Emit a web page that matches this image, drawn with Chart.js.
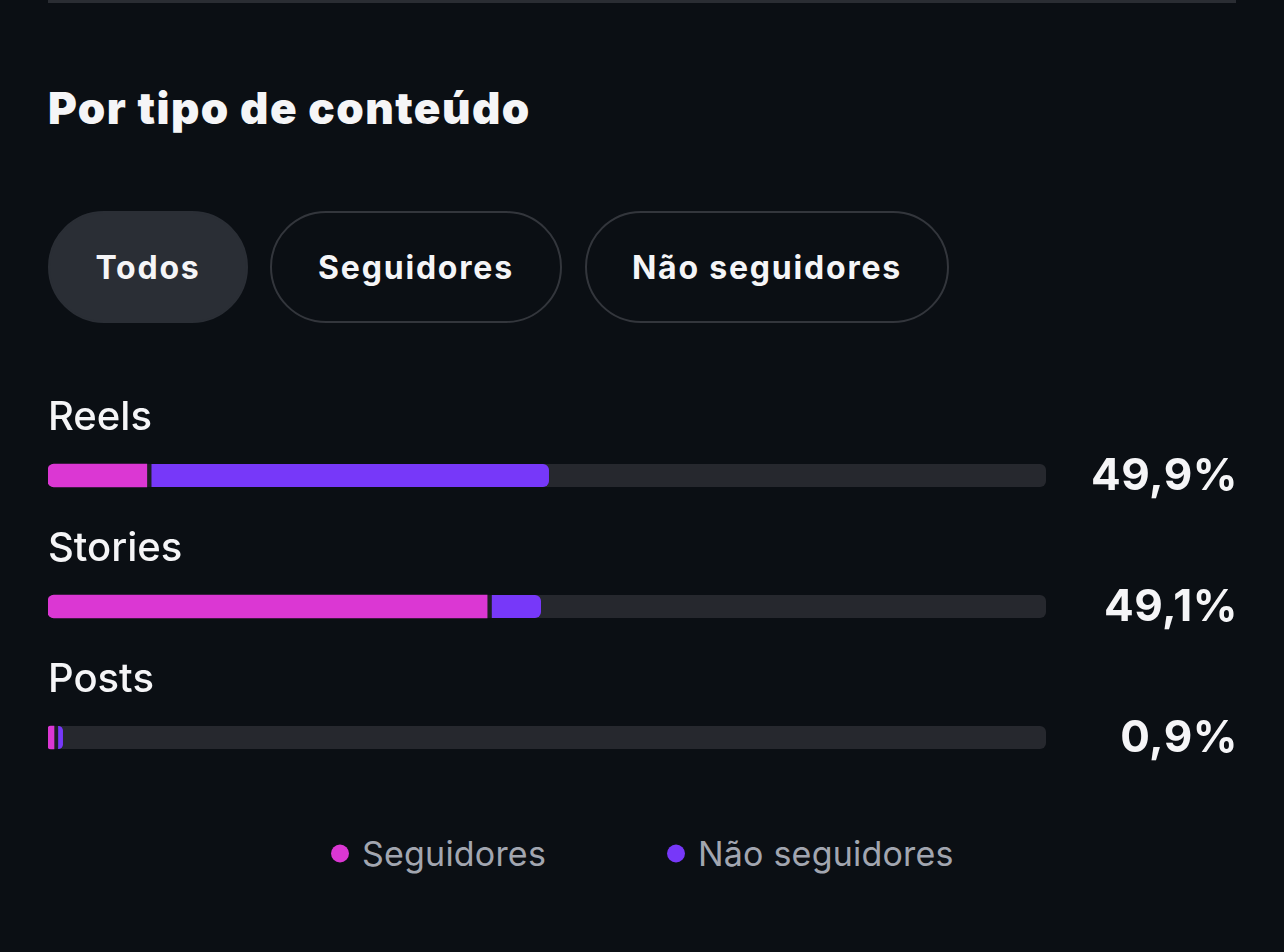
<!DOCTYPE html>
<html>
<head>
<meta charset="utf-8">
<script src="https://cdn.jsdelivr.net/npm/chart.js@4/dist/chart.umd.min.js"></script>
<style>
  html, body { margin: 0; padding: 0; }
  body { width: 1284px; height: 952px; background: #0b0f14; position: relative; overflow: hidden; font-family: Inter, "Noto Sans", sans-serif; color: #f5f5f7; }
  .topline { position: absolute; left: 48px; top: 0; width: 1188px; height: 3px; background: #2a2d33; }
  h2 { position: absolute; left: 48px; top: 86px; margin: 0; font-size: 44px; line-height: 44px; font-weight: 900; letter-spacing: 1.45px; }
  .tab { position: absolute; top: 211px; height: 112px; box-sizing: border-box; border: 2px solid #33363c; border-radius: 56px; display: flex; align-items: center; justify-content: center; font-size: 32px; font-weight: 700; letter-spacing: 1.8px; }
  .tab.active { background: #2a2e35; border-color: #2a2e35; }
  #wrap { position: absolute; left: 0; top: 380px; width: 1284px; height: 440px; }
  .legend { position: absolute; top: 853px; left: 0; width: 1284px; }
  .legend span { position: absolute; transform: translateY(-50%); font-size: 34px; letter-spacing: 0.2px; color: #a2a6b0; white-space: nowrap; display: flex; align-items: center; }
  .legend i { display: inline-block; width: 18px; height: 18px; border-radius: 50%; margin-right: 13px; }
</style>
</head>
<body>
<div class="topline"></div>
<h2>Por tipo de conteúdo</h2>
<div class="tab active" style="left:48px;width:200px">Todos</div>
<div class="tab" style="left:270px;width:292px">Seguidores</div>
<div class="tab" style="left:585px;width:364px">Não seguidores</div>
<div id="wrap"><canvas id="chart"></canvas></div>
<div class="legend" id="legend"></div>
<script>
const categories = ['Reels', 'Stories', 'Posts'];
const seguidores = [9.9, 44.0, 0.6];
const naoSeguidores = [40.3, 5.4, 0.9];
const totals = [49.9, 49.1, 0.9];
const seriesNames = ['Seguidores', 'Não seguidores'];
const seriesColors = ['#db37d3', '#7738f9'];

const trackColor = '#26282e';
const gapColor = '#1d1f24';

const fmt = v => v.toLocaleString('pt-BR', { minimumFractionDigits: 1, maximumFractionDigits: 1 }) + '%';

// track behind each bar + category / total labels
const rowDecor = {
    id: 'rowDecor',
    beforeDatasetsDraw(chart) {
        const { ctx, scales: { x, y } } = chart;
        const x0 = x.getPixelForValue(0);
        const x1 = x.getPixelForValue(100);
        ctx.save();
        ctx.fillStyle = trackColor;
        categories.forEach((c, i) => {
            const cy = y.getPixelForValue(i);
            ctx.beginPath();
            ctx.roundRect(x0, cy - 11.5, x1 - x0, 23, 6);
            ctx.fill();
        });
        ctx.restore();
    },
    afterDatasetsDraw(chart) {
        const { ctx, scales: { x, y } } = chart;
        ctx.save();
        ctx.fillStyle = '#f5f5f7';
        ctx.textBaseline = 'middle';
        categories.forEach((c, i) => {
            const cy = y.getPixelForValue(i);
            ctx.textAlign = 'left';
            ctx.font = '500 40px Inter';
            ctx.fillText(c, x.getPixelForValue(0), cy - 58);
            ctx.textAlign = 'right';
            ctx.font = '700 44px Inter';
            ctx.letterSpacing = '0.5px';
            ctx.fillText(fmt(totals[i]), chart.width - 46, cy + 1);
            ctx.letterSpacing = '0px';
        });
        ctx.restore();
    }
};

const ctx = document.getElementById('chart').getContext('2d');
new Chart(ctx, {
    type: 'bar',
    data: {
        labels: categories,
        datasets: [
            {
                label: seriesNames[0],
                data: seguidores,
                backgroundColor: seriesColors[0],
                borderWidth: 0,
                borderSkipped: false,
                borderRadius: { topLeft: 6, bottomLeft: 6, topRight: 0, bottomRight: 0 },
                barThickness: 23
            },
            {
                label: seriesNames[1],
                data: naoSeguidores,
                backgroundColor: seriesColors[1],
                borderColor: gapColor,
                borderWidth: { left: 5, top: 0, right: 0, bottom: 0 },
                borderSkipped: false,
                borderRadius: { topLeft: 0, bottomLeft: 0, topRight: 6, bottomRight: 6 },
                barThickness: 23
            }
        ]
    },
    options: {
        indexAxis: 'y',
        responsive: true,
        maintainAspectRatio: false,
        animation: false,
        layout: { padding: { left: 48, right: 238, top: 30, bottom: 17 } },
        scales: {
            x: { stacked: true, min: 0, max: 100, display: false },
            y: { stacked: true, display: false }
        },
        plugins: {
            legend: { display: false },
            tooltip: { enabled: false }
        }
    },
    plugins: [rowDecor]
});

// legend
const legendPos = [331, 667];
const legend = document.getElementById('legend');
seriesNames.forEach((name, i) => {
    const s = document.createElement('span');
    s.style.left = legendPos[i] + 'px';
    s.innerHTML = '<i style="background:' + seriesColors[i] + '"></i>' + name;
    legend.appendChild(s);
});
</script>
</body>
</html>
